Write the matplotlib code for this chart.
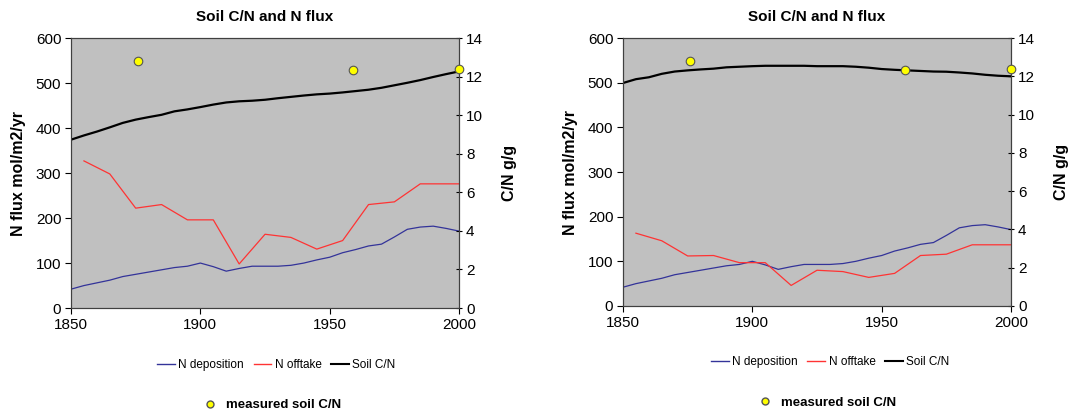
import matplotlib.pyplot as plt
from matplotlib.lines import Line2D

plt.rcParams['font.family'] = ['Liberation Sans', 'DejaVu Sans']

# --- data ---
years = list(range(1850, 2001, 5))
n_deposition = [42, 50, 56, 62, 70, 75, 80, 85, 90, 93, 100, 92, 82, 88, 93, 93,
                93, 95, 100, 107, 113, 123, 130, 138, 142, 158, 175, 180, 182, 177, 171]

offtake_years = [1855, 1865, 1875, 1885, 1895, 1905, 1915, 1925, 1935, 1945,
                 1955, 1965, 1975, 1985, 1995, 2000]
n_offtake_left = [327, 298, 222, 230, 196, 196, 98, 164, 157, 131,
                  150, 230, 236, 276, 276, 276]
n_offtake_right = [163, 146, 112, 113, 97, 97, 46, 80, 77, 64,
                   73, 113, 116, 137, 137, 137]

soil_cn_left = [8.73, 8.95, 9.15, 9.37, 9.6, 9.77, 9.9, 10.02, 10.2, 10.3, 10.42,
                10.55, 10.66, 10.72, 10.75, 10.8, 10.88, 10.95, 11.02, 11.08, 11.12,
                11.18, 11.25, 11.32, 11.42, 11.55, 11.68, 11.82, 11.98, 12.13, 12.27]
soil_cn_right = [11.65, 11.85, 11.95, 12.13, 12.25, 12.31, 12.36, 12.4, 12.47, 12.5,
                 12.53, 12.55, 12.55, 12.55, 12.55, 12.53, 12.53, 12.53, 12.5, 12.45,
                 12.38, 12.34, 12.31, 12.28, 12.25, 12.24, 12.2, 12.15, 12.08, 12.03, 12.0]

measured_years = [1876, 1959, 2000]
measured_cn = [12.82, 12.32, 12.4]

BLUE = '#333399'
RED = '#FF3333'
GRAY = '#C0C0C0'

fig = plt.figure(figsize=(10.84, 4.18), dpi=100)


def panel(rect, offtake, soil_cn, leg_x, leg_y, mleg_x, mleg_y):
    ax = fig.add_axes(rect)
    ax.set_facecolor(GRAY)
    ax.plot(years, n_deposition, color=BLUE, lw=0.9, label='N deposition')
    ax.plot(offtake_years, offtake, color=RED, lw=0.9, label='N offtake')
    ax.set_xlim(1850, 2000)
    ax.set_ylim(0, 600)
    ax.set_xticks([1850, 1900, 1950, 2000])
    ax.set_yticks(range(0, 601, 100))
    ax.tick_params(labelsize=11, length=4, width=0.8, pad=3)
    ax.set_ylabel('N flux mol/m2/yr', fontsize=11.5, fontweight='bold', labelpad=7)
    ax.set_title('Soil C/N and N flux', fontsize=11, fontweight='bold', pad=12)
    for s in ax.spines.values():
        s.set_linewidth(0.8)
        s.set_color('#404040')

    ax2 = ax.twinx()
    ax2.plot(years, soil_cn, color='black', lw=1.6, label='Soil C/N')
    ax2.scatter(measured_years, measured_cn, s=38, color='#FFFF00',
                edgecolor='#555555', linewidth=0.8, zorder=5, clip_on=False)
    ax2.set_ylim(0, 14)
    ax2.set_yticks(range(0, 15, 2))
    ax2.tick_params(labelsize=11, length=4, width=0.8, direction='inout', pad=3)
    ax2.set_ylabel('C/N g/g', fontsize=11.5, fontweight='bold', labelpad=14)
    for s in ax2.spines.values():
        s.set_linewidth(0.8)
        s.set_color('#404040')

    handles = [Line2D([], [], color=BLUE, lw=1),
               Line2D([], [], color=RED, lw=1),
               Line2D([], [], color='black', lw=1.5)]
    fig.legend(handles, ['N deposition', 'N offtake', 'Soil C/N'],
               loc='center', bbox_to_anchor=(leg_x, leg_y), ncol=3, frameon=False,
               fontsize=8.5, handlelength=1.5, handletextpad=0.3, columnspacing=0.8)
    mh = [Line2D([], [], marker='o', ls='none', markersize=5,
                 markerfacecolor='#FFFF00', markeredgecolor='#555555')]
    fig.legend(mh, ['measured soil C/N'], loc='center',
               bbox_to_anchor=(mleg_x, mleg_y), frameon=False,
               prop={'size': 9.5, 'weight': 'bold'}, handletextpad=0.2)


panel([0.0655, 0.263, 0.358, 0.646], n_offtake_left, soil_cn_left,
      0.255, 0.127, 0.248, 0.031)
panel([0.5747, 0.268, 0.358, 0.641], n_offtake_right, soil_cn_right,
      0.766, 0.134, 0.760, 0.036)

fig.savefig('out.png', dpi=100)
